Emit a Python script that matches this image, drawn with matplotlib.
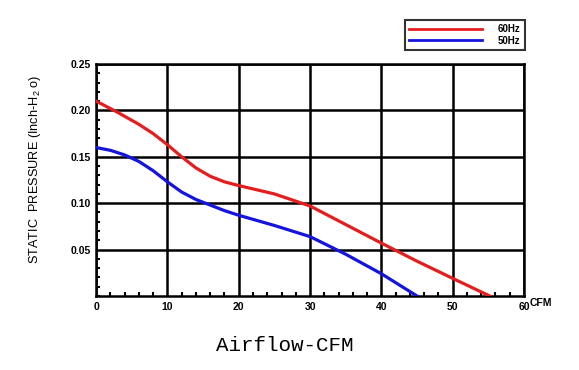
import numpy as np
import matplotlib
matplotlib.use('Agg')
import matplotlib.pyplot as plt
from matplotlib.ticker import MultipleLocator

plt.rcParams['font.family'] = ['Liberation Sans', 'DejaVu Sans']
plt.rcParams['mathtext.default'] = 'regular'

# curves
cfm_60 = [0, 3, 6, 8, 10, 12, 14, 16, 18, 20, 25, 30, 35, 40, 45, 50, 55.2]
sp_60 = [0.210, 0.198, 0.185, 0.175, 0.163, 0.150, 0.138, 0.129, 0.123, 0.119,
         0.110, 0.097, 0.077, 0.057, 0.0375, 0.019, 0.0]
cfm_50 = [0, 2, 4, 6, 8, 10, 12, 14, 16, 18, 20, 25, 30, 35, 40, 45]
sp_50 = [0.160, 0.157, 0.152, 0.145, 0.135, 0.123, 0.112, 0.104, 0.098, 0.092,
         0.087, 0.076, 0.064, 0.045, 0.024, 0.0]
series_labels = ['60Hz', '50Hz']
x_ticks = [0, 10, 20, 30, 40, 50, 60]
y_ticks = [0.05, 0.10, 0.15, 0.20, 0.25]

fig = plt.figure(figsize=(5.79, 3.70), dpi=100)
ax = fig.add_axes([0.166, 0.2, 0.739, 0.627])

ax.plot(cfm_60, sp_60, color='#e41e1e', lw=2.3, label=series_labels[0], zorder=3)
ax.plot(cfm_50, sp_50, color='#1414dc', lw=2.3, label=series_labels[1], zorder=3)

ax.set_xlim(0, 60)
ax.set_ylim(0, 0.25)
ax.set_xticks(x_ticks)
ax.set_yticks(y_ticks)
ax.set_xticklabels([str(t) for t in x_ticks], fontsize=7.5, fontweight='bold')
ax.set_yticklabels(['%.2f' % t for t in y_ticks], fontsize=7.5, fontweight='bold')
ax.xaxis.set_minor_locator(MultipleLocator(2))
ax.yaxis.set_minor_locator(MultipleLocator(0.01))
ax.tick_params(which='major', length=0, pad=4)
ax.tick_params(which='minor', direction='in', length=3, width=1.5, color='black')
ax.tick_params(which='minor', top=False, right=False)
ax.grid(True, which='major', color='black', lw=1.8)
for s in ax.spines.values():
    s.set_linewidth(1.8)

fig.text(35 / 579, 1 - 169 / 370, 'STATIC  PRESSURE (Inch-H$_2$ o)',
         fontsize=9.2, rotation=90, ha='center', va='center')
ax.text(1.012, -0.03, 'CFM', transform=ax.transAxes, fontsize=7.5,
        fontweight='bold', va='center', ha='left')

fig.text(0.492, 0.04, 'Airflow-CFM', fontsize=15, family='Liberation Mono',
         ha='center', va='bottom')

leg = ax.legend(loc='upper right', bbox_to_anchor=(525 / 579, 1 - 20 / 370),
                bbox_transform=fig.transFigure, borderaxespad=0, fontsize=7,
                frameon=True, fancybox=False, edgecolor='black',
                handlelength=7.5, handletextpad=1.6, borderpad=0.45,
                labelspacing=0.15)
leg.get_frame().set_linewidth(1.5)
for line in leg.get_lines():
    line.set_linewidth(2)
for t in leg.get_texts():
    t.set_fontweight('bold')

plt.savefig('out.png', dpi=100)
